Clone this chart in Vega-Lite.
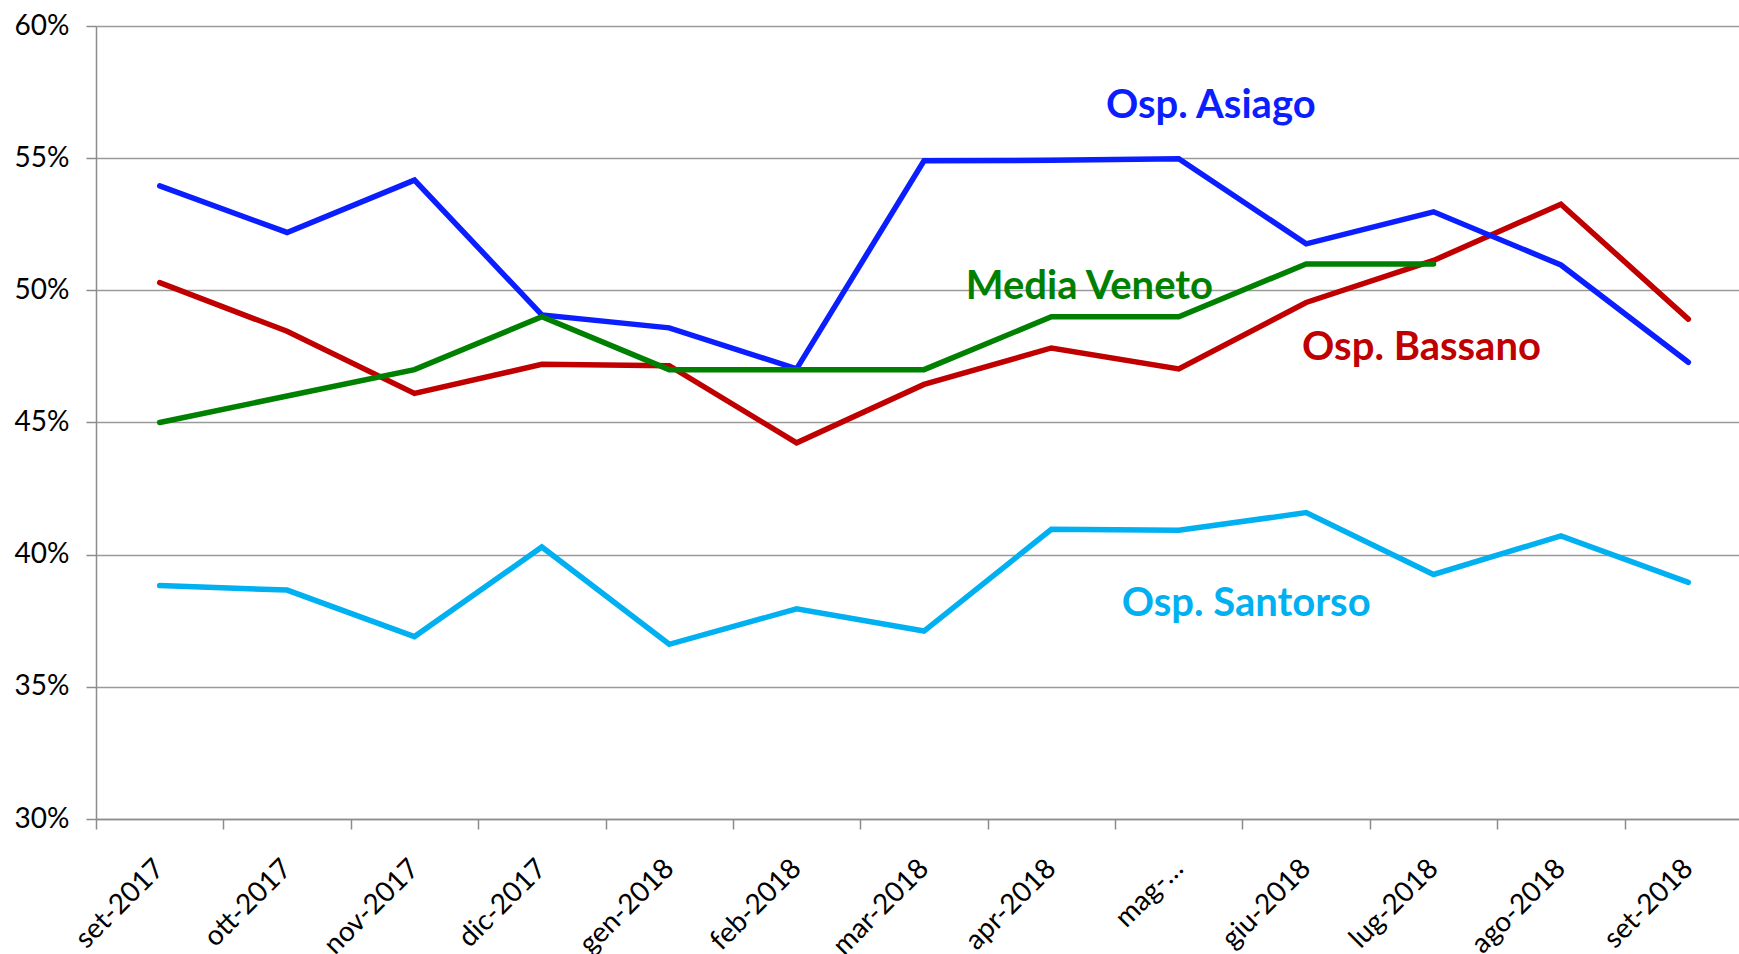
{
  "$schema": "https://vega.github.io/schema/vega-lite/v6.json",
  "autosize": {"type": "none"},
  "padding": {"left": 96, "top": 26, "right": 0, "bottom": 135},
  "width": 1643,
  "height": 793,
  "background": "white",
  "config": {
    "view": {"stroke": null},
    "font": "Lato"
  },
  "datasets": {
    "series": [
      {"month": "set-2017", "series": "Osp. Santorso", "value": 0.3883},
      {"month": "ott-2017", "series": "Osp. Santorso", "value": 0.3866},
      {"month": "nov-2017", "series": "Osp. Santorso", "value": 0.369},
      {"month": "dic-2017", "series": "Osp. Santorso", "value": 0.4029},
      {"month": "gen-2018", "series": "Osp. Santorso", "value": 0.3661},
      {"month": "feb-2018", "series": "Osp. Santorso", "value": 0.3795},
      {"month": "mar-2018", "series": "Osp. Santorso", "value": 0.3711},
      {"month": "apr-2018", "series": "Osp. Santorso", "value": 0.4096},
      {"month": "mag-2018", "series": "Osp. Santorso", "value": 0.4092},
      {"month": "giu-2018", "series": "Osp. Santorso", "value": 0.4159},
      {"month": "lug-2018", "series": "Osp. Santorso", "value": 0.3925},
      {"month": "ago-2018", "series": "Osp. Santorso", "value": 0.4071},
      {"month": "set-2018", "series": "Osp. Santorso", "value": 0.3895},

      {"month": "set-2017", "series": "Osp. Bassano", "value": 0.5029},
      {"month": "ott-2017", "series": "Osp. Bassano", "value": 0.4845},
      {"month": "nov-2017", "series": "Osp. Bassano", "value": 0.461},
      {"month": "dic-2017", "series": "Osp. Bassano", "value": 0.472},
      {"month": "gen-2018", "series": "Osp. Bassano", "value": 0.4715},
      {"month": "feb-2018", "series": "Osp. Bassano", "value": 0.4423},
      {"month": "mar-2018", "series": "Osp. Bassano", "value": 0.4644},
      {"month": "apr-2018", "series": "Osp. Bassano", "value": 0.4782},
      {"month": "mag-2018", "series": "Osp. Bassano", "value": 0.4703},
      {"month": "giu-2018", "series": "Osp. Bassano", "value": 0.4954},
      {"month": "lug-2018", "series": "Osp. Bassano", "value": 0.5113},
      {"month": "ago-2018", "series": "Osp. Bassano", "value": 0.5326},
      {"month": "set-2018", "series": "Osp. Bassano", "value": 0.4891},

      {"month": "set-2017", "series": "Osp. Asiago", "value": 0.5395},
      {"month": "ott-2017", "series": "Osp. Asiago", "value": 0.5219},
      {"month": "nov-2017", "series": "Osp. Asiago", "value": 0.5417},
      {"month": "dic-2017", "series": "Osp. Asiago", "value": 0.4907},
      {"month": "gen-2018", "series": "Osp. Asiago", "value": 0.4858},
      {"month": "feb-2018", "series": "Osp. Asiago", "value": 0.4703},
      {"month": "mar-2018", "series": "Osp. Asiago", "value": 0.549},
      {"month": "apr-2018", "series": "Osp. Asiago", "value": 0.5492},
      {"month": "mag-2018", "series": "Osp. Asiago", "value": 0.5498},
      {"month": "giu-2018", "series": "Osp. Asiago", "value": 0.5176},
      {"month": "lug-2018", "series": "Osp. Asiago", "value": 0.5297},
      {"month": "ago-2018", "series": "Osp. Asiago", "value": 0.5096},
      {"month": "set-2018", "series": "Osp. Asiago", "value": 0.4728},

      {"month": "set-2017", "series": "Media Veneto", "value": 0.45},
      {"month": "ott-2017", "series": "Media Veneto", "value": 0.46},
      {"month": "nov-2017", "series": "Media Veneto", "value": 0.47},
      {"month": "dic-2017", "series": "Media Veneto", "value": 0.49},
      {"month": "gen-2018", "series": "Media Veneto", "value": 0.47},
      {"month": "feb-2018", "series": "Media Veneto", "value": 0.47},
      {"month": "mar-2018", "series": "Media Veneto", "value": 0.47},
      {"month": "apr-2018", "series": "Media Veneto", "value": 0.49},
      {"month": "mag-2018", "series": "Media Veneto", "value": 0.49},
      {"month": "giu-2018", "series": "Media Veneto", "value": 0.51},
      {"month": "lug-2018", "series": "Media Veneto", "value": 0.51}
    ],
    "labels": [
      {"month": "mag-2018", "series": "Osp. Asiago", "value": 0.5698},
      {"month": "apr-2018", "series": "Media Veneto", "value": 0.5013},
      {"month": "lug-2018", "series": "Osp. Bassano", "value": 0.4783},
      {"month": "giu-2018", "series": "Osp. Santorso", "value": 0.3812}
    ]
  },
  "encoding": {
    "x": {
      "field": "month",
      "type": "ordinal",
      "sort": null,
      "bandPosition": 0.5,
      "scale": {
        "type": "band",
        "domain": ["set-2017", "ott-2017", "nov-2017", "dic-2017", "gen-2018", "feb-2018", "mar-2018", "apr-2018", "mag-2018", "giu-2018", "lug-2018", "ago-2018", "set-2018"],
        "range": [0, 1656],
        "paddingInner": 0,
        "paddingOuter": 0
      },
      "axis": {
        "title": null,
        "tickBand": "extent",
        "labelExpr": "datum.value == 'mag-2018' ? 'mag-…' : datum.value",
        "labelAngle": -45,
        "labelAlign": "right",
        "labelBaseline": "middle",
        "labelFont": "Lato",
        "labelFontSize": 28,
        "labelColor": "#000000",
        "labelPadding": 35,
        "labelOverlap": false,
        "labelBound": false,
        "labelFlush": false,
        "tickSize": 10,
        "tickColor": "#8c8c8c",
        "tickWidth": 1.5,
        "domainColor": "#8c8c8c",
        "domainWidth": 1.5,
        "grid": false
      }
    },
    "y": {
      "field": "value",
      "type": "quantitative",
      "scale": {"domain": [0.3, 0.6], "nice": false, "zero": false},
      "axis": {
        "title": null,
        "values": [0.3, 0.35, 0.4, 0.45, 0.5, 0.55, 0.6],
        "format": ".0%",
        "labelFont": "Lato",
        "labelFontSize": 28,
        "labelColor": "#000000",
        "labelPadding": 17,
        "tickSize": 10,
        "tickColor": "#8c8c8c",
        "tickWidth": 1.5,
        "domainColor": "#8c8c8c",
        "domainWidth": 1.5,
        "grid": true,
        "gridColor": "#9a9a9a",
        "gridWidth": 1.5
      }
    },
    "color": {
      "field": "series",
      "type": "nominal",
      "scale": {
        "domain": ["Osp. Santorso", "Osp. Bassano", "Osp. Asiago", "Media Veneto"],
        "range": ["#00b0f0", "#c00000", "#0a1eff", "#008000"]
      },
      "legend": null
    }
  },
  "layer": [
    {
      "data": {"name": "series"},
      "mark": {"type": "line", "strokeWidth": 5.5, "strokeCap": "round"}
    },
    {
      "data": {"name": "labels"},
      "transform": [{"filter": "datum.series == 'Osp. Asiago'"}],
      "mark": {"type": "text", "font": "Lato", "fontWeight": "bold", "fontSize": 40, "align": "center", "baseline": "middle", "dx": 32},
      "encoding": {"text": {"field": "series"}}
    },
    {
      "data": {"name": "labels"},
      "transform": [{"filter": "datum.series == 'Media Veneto'"}],
      "mark": {"type": "text", "font": "Lato", "fontWeight": "bold", "fontSize": 40, "align": "center", "baseline": "middle", "dx": 38},
      "encoding": {"text": {"field": "series"}}
    },
    {
      "data": {"name": "labels"},
      "transform": [{"filter": "datum.series == 'Osp. Bassano'"}],
      "mark": {"type": "text", "font": "Lato", "fontWeight": "bold", "fontSize": 40, "align": "center", "baseline": "middle", "dx": -12},
      "encoding": {"text": {"field": "series"}}
    },
    {
      "data": {"name": "labels"},
      "transform": [{"filter": "datum.series == 'Osp. Santorso'"}],
      "mark": {"type": "text", "font": "Lato", "fontWeight": "bold", "fontSize": 40, "align": "center", "baseline": "middle", "dx": -60},
      "encoding": {"text": {"field": "series"}}
    }
  ]
}
